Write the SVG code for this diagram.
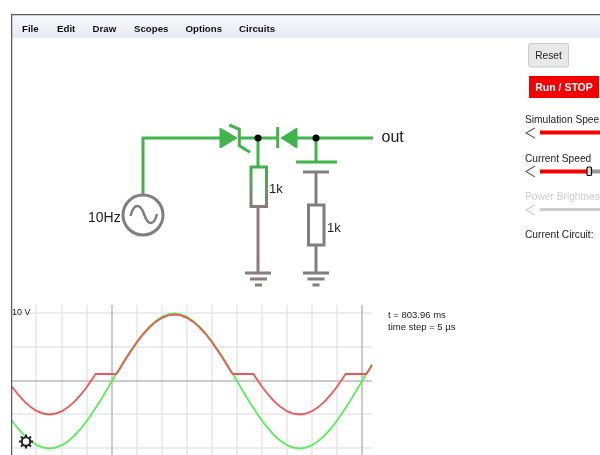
<svg xmlns="http://www.w3.org/2000/svg" width="600" height="455" viewBox="0 0 600 455">
<defs>
<linearGradient id="menuGrad" x1="0" y1="0" x2="0" y2="1"><stop offset="0" stop-color="#f7f8fb"/><stop offset="1" stop-color="#e6eaf4"/></linearGradient>
<linearGradient id="resGrad" gradientUnits="userSpaceOnUse" x1="0" y1="166" x2="0" y2="207"><stop offset="0" stop-color="#3fb34a"/><stop offset="0.45" stop-color="#5f9c62"/><stop offset="1" stop-color="#8a7b7b"/></linearGradient>
<filter id="soft" x="0" y="0" width="100%" height="100%"><feGaussianBlur stdDeviation="0.5"/></filter>
</defs>
<style>
text{font-family:"Liberation Sans",Arial,sans-serif;fill:#222}
.menu{font-size:9.7px;font-weight:bold;fill:#111}
.ui{font-size:10.2px}
.lab{font-size:14px}
.small{font-size:9.5px}
.w{fill:none;stroke:#3fb34a;stroke-width:3}
.g{fill:none;stroke:#7f7f7f;stroke-width:3}
.b{fill:none;stroke:#8a7b7b;stroke-width:3}
.grid{stroke:#e6e6e6;stroke-width:1.500;fill:none}
.axis{stroke:#bbb;stroke-width:1.500;fill:none}
.chev{fill:none;stroke:#666;stroke-width:1.200}
</style>
<rect width="600" height="455" fill="#fff"/>
<g filter="url(#soft)">
<g id="frame">
<rect x="12" y="15" width="588" height="23" fill="url(#menuGrad)"/>
</g>
<g id="menu">
<text class="menu" x="22" y="32">File</text>
<text class="menu" x="57" y="32">Edit</text>
<text class="menu" x="92.500" y="32">Draw</text>
<text class="menu" x="134" y="32">Scopes</text>
<text class="menu" x="185.500" y="32">Options</text>
<text class="menu" x="239" y="32">Circuits</text>
</g>
<g id="connectors">
<path class="w" d="M143 194V138H220"/>
<path class="w" d="M239 138H278"/>
<path class="w" d="M297 138H373"/>
<path class="w" d="M258 138V167"/>
<path class="w" d="M316 138V162"/>
<path class="g" d="M316 172V205"/>
<path class="g" d="M316 245V273"/>
<path class="b" d="M258 207V273"/>
</g>
<g id="source">
<circle cx="143" cy="215" r="20" fill="#fff" stroke="#7f7f7f" stroke-width="3"/>
<path d="M130.500 216C134 203 140 203 144 214C148 226 154 226 157 214" fill="none" stroke="#7f7f7f" stroke-width="2.500"/>
<text class="lab" x="88" y="222">10Hz</text>
</g>
<g id="zener">
<path d="M220 128L237 138L220 148Z" fill="#3fb34a" stroke="#3fb34a" stroke-width="1"/>
<path class="w" d="M229.300 125L239.300 129.300V145.700L250 152.300"/>
</g>
<g id="diode">
<path d="M281 138L297 128V148Z" fill="#3fb34a" stroke="#3fb34a" stroke-width="1"/>
<path class="w" d="M277.700 127V148"/>
</g>
<g id="junction1"><circle cx="258" cy="138" r="3.500" fill="#000"/></g>
<g id="junction2"><circle cx="316" cy="138" r="3.500" fill="#000"/></g>
<g id="resistor1">
<rect x="251" y="167" width="15.500" height="39.500" fill="#fff" stroke="url(#resGrad)" stroke-width="3"/>
<text class="lab" x="269" y="193" style="font-size:13px">1k</text>
</g>
<g id="capacitor">
<path class="w" d="M296 162H337"/>
<path class="g" d="M303 172H329"/>
</g>
<g id="resistor2">
<rect x="308.500" y="205" width="15.500" height="40" fill="#fff" stroke="#7f7f7f" stroke-width="3"/>
<text class="lab" x="327" y="232" style="font-size:13px">1k</text>
</g>
<g id="ground1"><path class="b" d="M245 273H271M250 279H267M255 285H262"/></g>
<g id="ground2"><path class="g" d="M303 273H329M307.500 279H324.500M312.500 285H319.500"/></g>
<g id="out"><text x="381.500" y="142" style="font-size:16px">out</text></g>
<g id="controls">
<rect x="528.500" y="43.500" width="40" height="23.500" rx="2" fill="#e8e8e8" stroke="#c8c8c8"/>
<text class="ui" x="548.500" y="59" text-anchor="middle">Reset</text>
<rect x="529" y="76" width="70" height="22" fill="#f40000"/>
<text x="564" y="91" text-anchor="middle" style="font-size:10.500px;font-weight:bold;fill:#fff">Run / STOP</text>
<text class="ui" x="525" y="123">Simulation Spee</text>
<path class="chev" d="M535 128L526 133L535 138"/>
<path d="M540 132.500H600" stroke="#f40000" stroke-width="4"/>
<text class="ui" x="525" y="162">Current Speed</text>
<path class="chev" d="M535 166L526 171.500L535 177"/>
<path d="M540 171.500H587" stroke="#f40000" stroke-width="4"/>
<path d="M592 171.500H600" stroke="#999" stroke-width="4"/>
<rect x="587" y="167" width="4.500" height="8.500" rx="1" fill="#ddd" stroke="#111" stroke-width="1.200"/>
<text class="ui" x="525" y="200" style="fill:#ccc">Power Brightnes</text>
<path class="chev" d="M535 205L526 210L535 215" style="stroke:#ccc"/>
<path d="M540 209.500H600" stroke="#ccc" stroke-width="3"/>
<text class="ui" x="525" y="238">Current Circuit:</text>
</g>
<g id="scope">
<path class="grid" d="M36 305V455M62 305V455M87 305V455M137 305V455M162 305V455M187 305V455M212 305V455M237 305V455M262 305V455M287 305V455M312 305V455M337 305V455M12 313H372M12 347H372M12 414H372M12 448H372"/>
<path class="axis" d="M112 305V455M362 305V455M12 381H372"/>
<polyline fill="none" stroke="#55ee55" stroke-width="1.800" points="12,420.700 18.250,428.700 24.500,435.600 30.750,441.100 37,445.200 43.250,447.700 49.500,448.500 55.750,447.700 62,445.200 68.250,441.100 74.500,435.600 80.750,428.700 87,420.700 93.250,411.600 99.500,401.900 105.750,391.600 112,381 118.250,370.400 124.500,360.100 130.750,350.400 137,341.300 143.250,333.300 149.500,326.400 155.750,320.900 162,316.800 168.250,314.300 174.500,313.500 180.750,314.300 187,316.800 193.250,320.900 199.500,326.400 205.750,333.300 212,341.300 218.250,350.400 224.500,360.100 230.750,370.400 237,381 243.250,391.600 249.500,401.900 255.750,411.600 262,420.700 268.250,428.700 274.500,435.600 280.750,441.100 287,445.200 293.250,447.700 299.500,448.500 305.750,447.700 312,445.200 318.250,441.100 324.500,435.600 330.750,428.700 337,420.700 343.250,411.600 349.500,401.900 355.750,391.600 362,381 368.250,370.400 372,364.200"/>
<polyline fill="none" stroke="#f05555" stroke-width="1.800" points="12,386.700 18.250,394.700 24.500,401.600 30.750,407.100 37,411.200 43.250,413.700 49.500,414.500 55.750,413.700 62,411.200 68.250,407.100 74.500,401.600 80.750,394.700 87,386.700 93.250,377.600 95.600,374 116.100,374 118.250,371.400 124.500,361.100 130.750,351.400 137,342.300 143.250,334.300 149.500,327.400 155.750,321.900 162,317.800 168.250,315.300 174.500,314.500 180.750,315.300 187,317.800 193.250,321.900 199.500,327.400 205.750,334.300 212,342.300 218.250,351.400 224.500,361.100 230.750,371.400 232.900,374 253.400,374 255.750,377.600 262,386.700 268.250,394.700 274.500,401.600 280.750,407.100 287,411.200 293.250,413.700 299.500,414.500 305.750,413.700 312,411.200 318.250,407.100 324.500,401.600 330.750,394.700 337,386.700 343.250,377.600 345.600,374 366.100,374 368.250,371.400 372,365.200"/>
<text class="small" x="12" y="314.500" style="font-size:9px">10 V</text>
<text class="small" x="388" y="317.500">t = 803.96 ms</text>
<text class="small" x="388" y="330">time step = 5 µs</text>
</g>
<g id="gear">
<circle cx="26" cy="441.500" r="4.200" fill="#fff" stroke="#222" stroke-width="2"/>
<path d="M26 434.500V437M26 446V448.500M19 441.500H21.500M30.500 441.500H33M21 436.500L22.800 438.300M29.200 444.700L31 446.500M31 436.500L29.200 438.300M22.800 444.700L21 446.500" stroke="#222" stroke-width="2" fill="none"/>
</g>
<path id="border" d="M11 455V14H600" fill="none" stroke="#5c5c5c" stroke-width="2.500"/>
</g>
</svg>
